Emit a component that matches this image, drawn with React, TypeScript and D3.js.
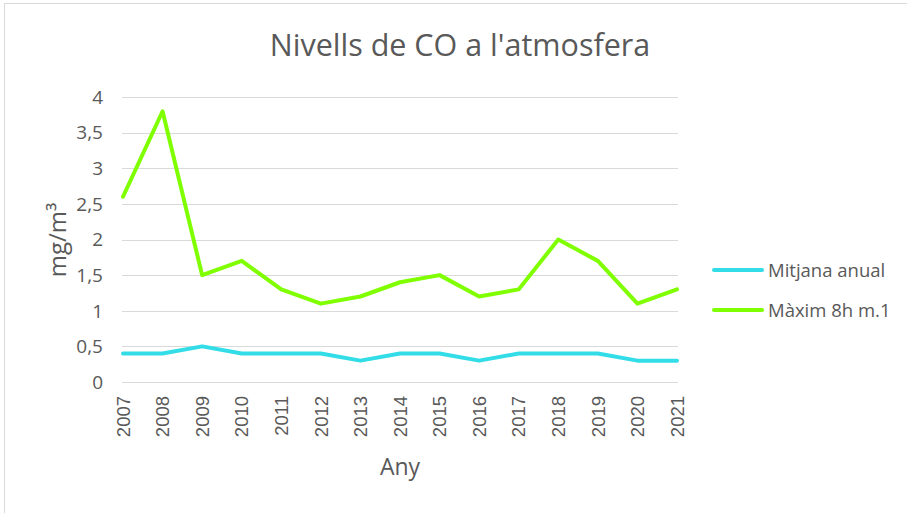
import React from "react";
import * as d3 from "d3";

const years = ["2007","2008","2009","2010","2011","2012","2013","2014","2015","2016","2017","2018","2019","2020","2021"];
const mitjana = [0.4,0.4,0.5,0.4,0.4,0.4,0.3,0.4,0.4,0.3,0.4,0.4,0.4,0.3,0.3];
const maxim = [2.6,3.8,1.5,1.7,1.3,1.1,1.2,1.4,1.5,1.2,1.3,2.0,1.7,1.1,1.3];
const yTicks = [0,0.5,1,1.5,2,2.5,3,3.5,4];
const seriesNames = ["Mitjana anual", "Màxim 8h m.1"];
const seriesColors = ["#33DDE8", "#7FFF00"];

const W = 907, H = 513;
const FONT = "'Open Sans', sans-serif";
const TXT = "#595959";

export default function App() {
  const x = d3.scalePoint<string>().domain(years).range([123, 677]);
  const y = d3.scaleLinear().domain([0, 4]).range([382, 97]);
  const line = d3.line<number>().x((_, i) => x(years[i])!).y(d => y(d));
  const series = [mitjana, maxim];
  const fmt = (v: number) => String(v).replace(".", ",");
  return (
    <svg width={W} height={H} style={{ position: "absolute", left: 0, top: 0 }} fontFamily={FONT}>
      <rect x={0} y={0} width={W} height={H} fill="#fff" />
      <rect x={4.5} y={3.5} width={W + 10} height={H + 10} fill="none" stroke="#D9D9D9" strokeWidth={1} />
      <text x={460} y={56} textAnchor="middle" fontSize={30.5} fill={TXT}>Nivells de CO a l'atmosfera</text>
      {yTicks.map(t => (
        <g key={t}>
          <line x1={122} x2={678} y1={Math.round(y(t)) + 0.5} y2={Math.round(y(t)) + 0.5} stroke="#D9D9D9" strokeWidth={1} />
          <text x={103} y={y(t)} dy="0.36em" textAnchor="end" fontSize={19} fill={TXT}>{fmt(t)}</text>
        </g>
      ))}
      {years.map(yr => (
        <text key={yr} transform={`translate(${x(yr)! },396) rotate(-90)`} dy="0.36em" textAnchor="end" fontSize={18.5} fontFamily="'Liberation Sans', Arial, sans-serif" fill={TXT}>{yr}</text>
      ))}
      <text x={400} y={475} textAnchor="middle" fontSize={23} fill={TXT}>Any</text>
      <text transform={`translate(57,240) rotate(-90)`} dy="0.36em" textAnchor="middle" fontSize={24} fill={TXT}>mg/m³</text>
      {series.map((s, i) => (
        <path key={i} d={line(s)!} fill="none" stroke={seriesColors[i]} strokeWidth={4} strokeLinejoin="round" strokeLinecap="round" />
      ))}
      {seriesNames.map((n, i) => (
        <g key={n} transform={`translate(0,${270 + i * 40})`}>
          <line x1={714} x2={762} y1={0} y2={0} stroke={seriesColors[i]} strokeWidth={4} strokeLinecap="round" />
          <text x={768} y={0} dy="0.36em" fontSize={18.5} fill={TXT}>{n}</text>
        </g>
      ))}
    </svg>
  );
}
